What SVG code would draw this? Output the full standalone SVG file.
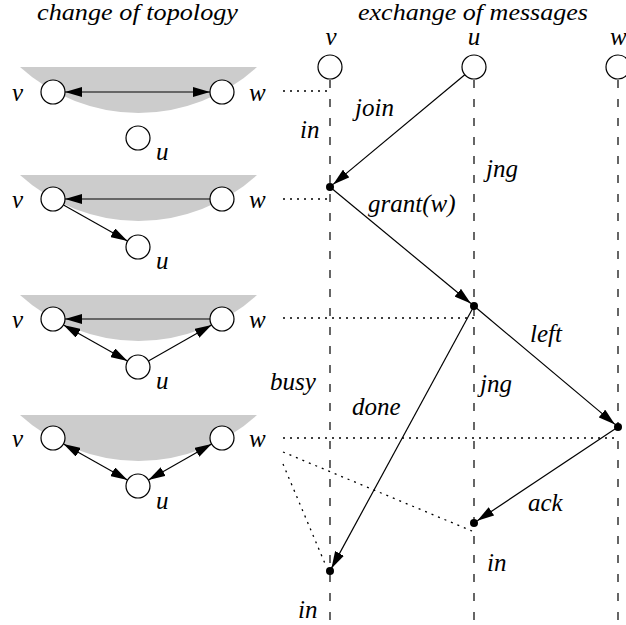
<svg xmlns="http://www.w3.org/2000/svg" width="626" height="625" viewBox="0 0 626 625">
  <style>
    text { font-family: "Liberation Serif", "Times New Roman", serif; font-style: italic; font-size: 25px; fill: #000; }
    .title { font-size: 23px; }
    .zone { fill: #cccccc; stroke: none; }
    .node { fill: #fff; stroke: #000; stroke-width: 1.2; }
    .edge { stroke: #000; stroke-width: 1.1; fill: none; }
    .msg { stroke: #000; stroke-width: 1.2; fill: none; marker-end: url(#ah); }
    .life { stroke: #000; stroke-width: 1.2; stroke-dasharray: 8 11; fill: none; }
    .dot { stroke: #000; stroke-width: 1.3; stroke-dasharray: 2 5; fill: none; }
    .ev { fill: #000; }
  </style>
  <defs>
    <marker id="ah" viewBox="0 0 17 10" refX="17" refY="5" markerWidth="17" markerHeight="10" markerUnits="userSpaceOnUse" orient="auto-start-reverse">
      <path d="M0,0 L17,5 L0,10 z" fill="#000"/>
    </marker>
  </defs>

  <!-- headings -->
  <text class="title" x="37" y="20" textLength="201" lengthAdjust="spacingAndGlyphs">change of topology</text>
  <text class="title" x="358" y="20" textLength="230" lengthAdjust="spacingAndGlyphs">exchange of messages</text>

  <!-- topology snapshot 1: v and w linked, u alone -->
  <g id="topo1">
    <path class="zone" d="M20,67 A175.6,175.6 0 0 0 257,67 Z"/>
    <line class="edge" x1="65" y1="92" x2="210" y2="92" marker-start="url(#ah)" marker-end="url(#ah)"/>
    <circle class="node" cx="53" cy="92" r="12"/>
    <circle class="node" cx="222" cy="92" r="12"/>
    <circle class="node" cx="138" cy="138" r="12"/>
    <text x="12" y="101">v</text>
    <text x="249" y="101">w</text>
    <text x="156" y="160">u</text>
  </g>

  <!-- topology snapshot 2: v grants u -->
  <g id="topo2">
    <path class="zone" d="M20,175 A175.6,175.6 0 0 0 257,175 Z"/>
    <line class="edge" x1="210" y1="199" x2="65" y2="199" marker-end="url(#ah)"/>
    <line class="edge" x1="63.5" y1="204.9" x2="127.5" y2="241.1" marker-end="url(#ah)"/>
    <circle class="node" cx="53" cy="199" r="12"/>
    <circle class="node" cx="222" cy="199" r="12"/>
    <circle class="node" cx="138" cy="247" r="12"/>
    <text x="12" y="208">v</text>
    <text x="249" y="208">w</text>
    <text x="156" y="269">u</text>
  </g>

  <!-- topology snapshot 3: u links toward w -->
  <g id="topo3">
    <path class="zone" d="M20,295 A175.6,175.6 0 0 0 257,295 Z"/>
    <line class="edge" x1="210" y1="319" x2="65" y2="319" marker-end="url(#ah)"/>
    <line class="edge" x1="63.5" y1="324.9" x2="127.5" y2="361.1" marker-start="url(#ah)" marker-end="url(#ah)"/>
    <line class="edge" x1="148.4" y1="361" x2="211.6" y2="324.9" marker-end="url(#ah)"/>
    <circle class="node" cx="53" cy="319" r="12"/>
    <circle class="node" cx="222" cy="319" r="12"/>
    <circle class="node" cx="138" cy="367" r="12"/>
    <text x="12" y="328">v</text>
    <text x="249" y="328">w</text>
    <text x="156" y="389">u</text>
  </g>

  <!-- topology snapshot 4: u between v and w -->
  <g id="topo4">
    <path class="zone" d="M20,415 A175.6,175.6 0 0 0 257,415 Z"/>
    <line class="edge" x1="63.5" y1="443.9" x2="127.5" y2="480.1" marker-start="url(#ah)" marker-end="url(#ah)"/>
    <line class="edge" x1="211.6" y1="443.9" x2="148.4" y2="480" marker-start="url(#ah)" marker-end="url(#ah)"/>
    <circle class="node" cx="53" cy="438" r="12"/>
    <circle class="node" cx="222" cy="438" r="12"/>
    <circle class="node" cx="138" cy="486" r="12"/>
    <text x="12" y="447">v</text>
    <text x="249" y="447">w</text>
    <text x="156" y="509">u</text>
  </g>

  <!-- process heads -->
  <g id="proc-v">
    <text x="331" y="45" text-anchor="middle">v</text>
    <circle class="node" cx="330" cy="67" r="12"/>
  </g>
  <g id="proc-u">
    <text x="474" y="45" text-anchor="middle">u</text>
    <circle class="node" cx="474" cy="67" r="12"/>
  </g>
  <g id="proc-w">
    <text x="610" y="45">w</text>
    <circle class="node" cx="618" cy="67" r="12"/>
  </g>

  <!-- lifelines, reference lines, messages -->
  <g id="connectors">
    <line class="life" x1="330" y1="80" x2="330" y2="625"/>
    <line class="life" x1="474" y1="80" x2="474" y2="625"/>
    <line class="life" x1="618" y1="80" x2="618" y2="625"/>

    <line class="dot" x1="283" y1="91" x2="330" y2="91"/>
    <line class="dot" x1="283" y1="199" x2="330" y2="199"/>
    <line class="dot" x1="283" y1="318" x2="474" y2="318"/>
    <line class="dot" x1="283" y1="438" x2="618" y2="438"/>
    <line class="dot" x1="283" y1="452" x2="472" y2="531"/>
    <line class="dot" x1="283" y1="464" x2="326" y2="566"/>

    <line class="msg" x1="464.8" y1="74.7" x2="333.1" y2="184.4"/>
    <line class="msg" x1="330" y1="187" x2="470.9" y2="303.5"/>
    <line class="msg" x1="474" y1="306" x2="615" y2="424.4"/>
    <line class="msg" x1="474" y1="306" x2="331.4" y2="568.4"/>
    <line class="msg" x1="618" y1="427" x2="477.3" y2="520.8"/>

    <circle class="ev" cx="330" cy="187" r="4"/>
    <circle class="ev" cx="474" cy="306" r="4"/>
    <circle class="ev" cx="618" cy="427" r="4"/>
    <circle class="ev" cx="474" cy="523" r="4"/>
    <circle class="ev" cx="330" cy="571" r="4"/>
  </g>

  <!-- message and state labels -->
  <g id="labels">
    <text x="355" y="116">join</text>
    <text x="300" y="138">in</text>
    <text x="486" y="177">jng</text>
    <text x="368" y="212">grant(w)</text>
    <text x="530" y="342">left</text>
    <text x="270" y="390">busy</text>
    <text x="352" y="415">done</text>
    <text x="480" y="392">jng</text>
    <text x="528" y="511">ack</text>
    <text x="487" y="571">in</text>
    <text x="298" y="618">in</text>
  </g>
</svg>
